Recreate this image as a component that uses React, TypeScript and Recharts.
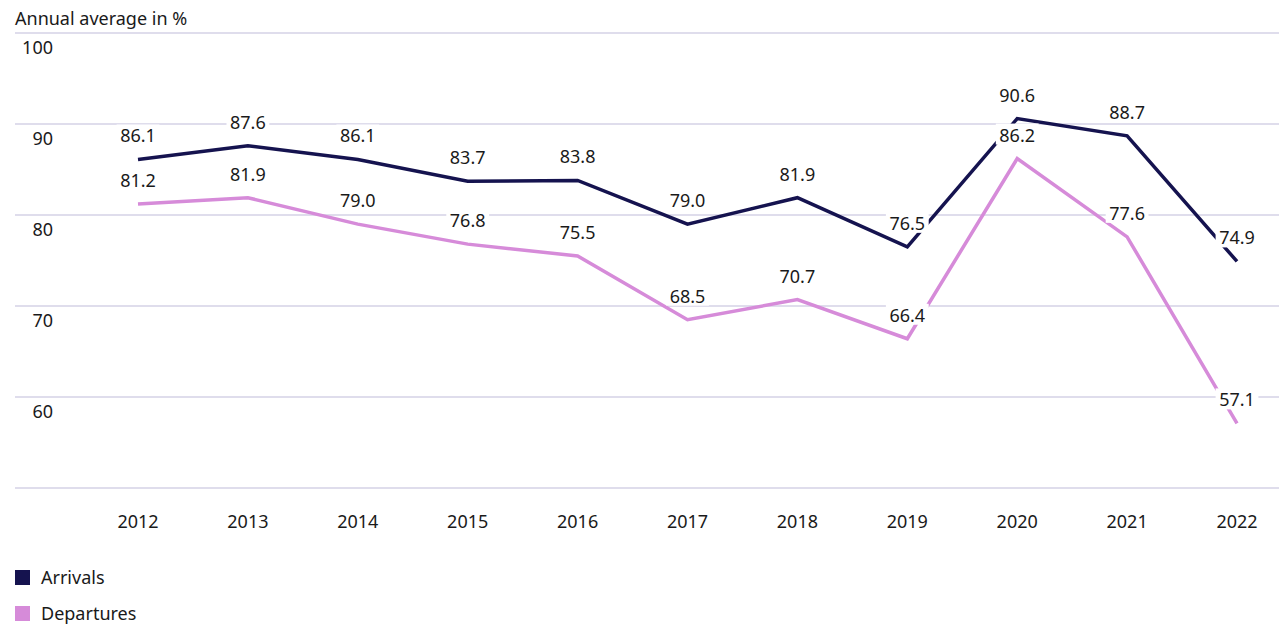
import React from "react";
import { LineChart, Line, XAxis, YAxis, CartesianGrid, LabelList } from "recharts";

const years = ["2012", "2013", "2014", "2015", "2016", "2017", "2018", "2019", "2020", "2021", "2022"];
const arrivals = [86.1, 87.6, 86.1, 83.7, 83.8, 79.0, 81.9, 76.5, 90.6, 88.7, 74.9];
const departures = [81.2, 81.9, 79.0, 76.8, 75.5, 68.5, 70.7, 66.4, 86.2, 77.6, 57.1];
const yTicks = [50, 60, 70, 80, 90, 100];

const data = years.map((y, i) => ({ year: y, arrivals: arrivals[i], departures: departures[i] }));

const FONT = "'Noto Sans', 'Open Sans', sans-serif";
const NAVY = "#15134f";
const PINK = "#d68bd9";
const GRID = "#bfbbd9";
const TEXT = "#1a1a1a";
const FS = 18;

const ValueLabel = (props: any) => {
  const { x, y, value } = props;
  const txt = Number(value).toFixed(1);
  const w = txt.length * 10.2 + 2;
  const cy = y - 24;
  return (
    <g>
      <rect x={x - w / 2} y={cy - 11} width={w} height={21} fill="#ffffff" />
      <text x={x} y={cy} textAnchor="middle" dominantBaseline="central" fontSize={FS} fontFamily={FONT} fill={TEXT}>
        {txt}
      </text>
    </g>
  );
};

const XTick = (props: any) => {
  const { x, y, payload } = props;
  return (
    <text x={x} y={y + 33} textAnchor="middle" dominantBaseline="central" fontSize={FS} fontFamily={FONT} fill={TEXT}>
      {payload.value}
    </text>
  );
};

const YTick = (props: any) => {
  const { y, payload } = props;
  if (payload.value === 50) return null;
  return (
    <text x={53} y={y + 14} textAnchor="end" dominantBaseline="central" fontSize={FS} fontFamily={FONT} fill={TEXT}>
      {payload.value}
    </text>
  );
};

const legendItems = [
  { name: "Arrivals", color: NAVY, top: 569 },
  { name: "Departures", color: PINK, top: 605 },
];

export default function App() {
  return (
    <div style={{ position: "absolute", left: 0, top: 0, width: 1279, height: 626, background: "#fff", fontFamily: FONT }}>
      <div style={{ position: "absolute", left: 15, top: 6, fontSize: FS, color: TEXT, lineHeight: "24px" }}>
        Annual average in %
      </div>
      <LineChart width={1279} height={626} data={data} margin={{ top: 33, right: 0, bottom: 108, left: 14 }}>
        <CartesianGrid horizontal vertical={false} stroke={GRID} strokeWidth={1} />
        <XAxis
          dataKey="year"
          axisLine={false}
          tickLine={false}
          tickSize={0}
          tickMargin={0}
          height={30}
          padding={{ left: 123, right: 42 }}
          tick={<XTick />}
          interval={0}
        />
        <YAxis
          domain={[50, 100]}
          ticks={yTicks}
          width={1}
          axisLine={false}
          tickLine={false}
          tickSize={0}
          tickMargin={0}
          tick={<YTick />}
          interval={0}
          allowDataOverflow
        />
        <Line
          type="linear"
          dataKey="arrivals"
          stroke={NAVY}
          strokeWidth={3.5}
          dot={false}
          isAnimationActive={false}
        >
          <LabelList dataKey="arrivals" content={<ValueLabel />} />
        </Line>
        <Line
          type="linear"
          dataKey="departures"
          stroke={PINK}
          strokeWidth={3.5}
          dot={false}
          isAnimationActive={false}
        >
          <LabelList dataKey="departures" content={<ValueLabel />} />
        </Line>
      </LineChart>
      {legendItems.map((it) => (
        <div key={it.name} style={{ position: "absolute", left: 15, top: it.top, display: "flex", alignItems: "center", height: 16 }}>
          <div style={{ width: 15, height: 15, background: it.color }} />
          <span style={{ marginLeft: 11, fontSize: FS, color: TEXT, lineHeight: "16px" }}>{it.name}</span>
        </div>
      ))}
    </div>
  );
}
